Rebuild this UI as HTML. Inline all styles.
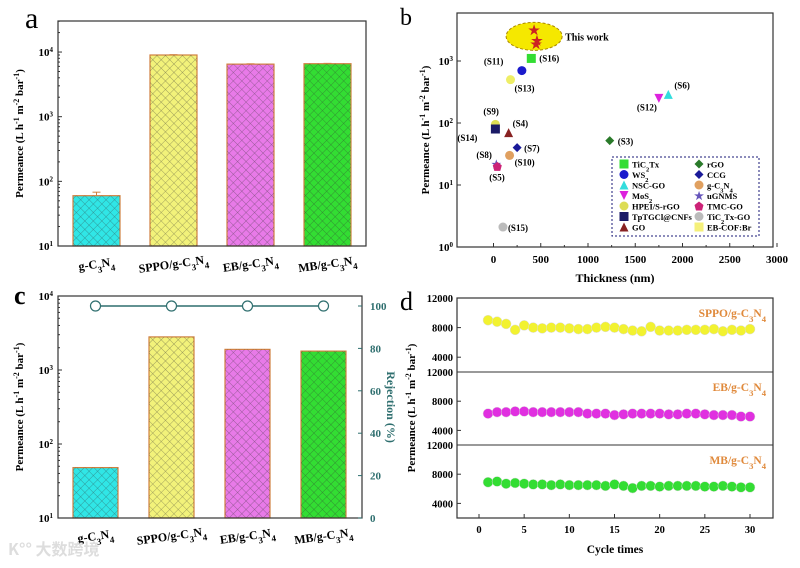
<!DOCTYPE html>
<html><head><meta charset="utf-8"><style>
html,body{margin:0;padding:0;background:#fff;}
svg{display:block;font-family:"Liberation Serif",serif;font-weight:bold;}
</style></head><body>
<svg id="fig" width="800" height="568" viewBox="0 0 800 568" xmlns="http://www.w3.org/2000/svg">
<defs>
<pattern id="hatch" width="6" height="6" patternUnits="userSpaceOnUse" patternTransform="rotate(45)">
<line x1="0" y1="0" x2="0" y2="6" stroke="#333" stroke-width="0.7"/>
<line x1="0" y1="0" x2="6" y2="0" stroke="#333" stroke-width="0.7"/>
</pattern>
</defs>
<g id="root"></g>
</svg>
<script>
// Panel a data
const aCategories = ["g-C3N4","SPPO/g-C3N4","EB/g-C3N4","MB/g-C3N4"];
const aValues = [60, 9000, 6500, 6600];
const aErrors = [8, 100, 80, 80];
// Panel c data
const cValues = [48, 2800, 1900, 1800];
const cRejection = [100, 100, 100, 100];
const barColors = ["#30e6e6","#f2f27a","#e87ae8","#33dd33"];
const logTicks = [1,2,3,4];
const rejTicks = [0,20,40,60,80,100];
// Panel b data
const bLabels = ["S16","S11","S13","S6","S12","S9","S14","S4","S7","S10","S8","S5","S3","S15"];
const bThick = [400,300,180,1850,1750,20,20,160,250,170,30,40,1230,100];
const bPerm = [1100,700,500,290,250,95,80,70,40,30,22,20,52,2.1];
const bShapes = ["square","circle","circle","tri","dtri","circle","square","tri","diamond","circle","star","pent","diamond","circle"];
const bColors = ["#33dd33","#1a1acc","#eeee66","#33dddd","#dd22dd","#dddd55","#1a1a66","#882222","#1a1a99","#e0a060","#6655bb","#cc2277","#2a7a2a","#bbbbbb"];
const workThick = [430,460,450];
const workPerm = [3200,2200,1900];
const bXTicks = [0,500,1000,1500,2000,2500,3000];
const bYTicks = [0,1,2,3];
const legendNames = ["TiC2Tx","rGO","WS2","CCG","NSC-GO","g-C3N4","MoS2","uGNMS","HPEI/S-rGO","TMC-GO","TpTGCl@CNFs","TiC2Tx-GO","GO","EB-COF:Br"];
// Panel d data
const dCycles = [1,2,3,4,5,6,7,8,9,10,11,12,13,14,15,16,17,18,19,20,21,22,23,24,25,26,27,28,29,30];
const dSPPO = [9000,8800,8500,7700,8300,8000,7900,8000,8000,7900,7800,7800,8000,8100,8000,7800,7600,7500,8100,7600,7600,7600,7700,7700,7700,7800,7500,7700,7600,7800];
const dEB = [6300,6500,6500,6600,6600,6500,6500,6500,6500,6500,6500,6300,6300,6300,6100,6200,6300,6300,6300,6300,6200,6200,6300,6300,6200,6100,6100,6100,5900,5900];
const dMB = [6900,7000,6700,6800,6700,6600,6600,6500,6600,6500,6500,6500,6500,6400,6600,6400,6100,6400,6400,6300,6400,6400,6400,6400,6300,6300,6400,6300,6200,6200];
const dXTicks = [0,5,10,15,20,25,30];
const dYTicks = [4000,8000,12000];

const NS="http://www.w3.org/2000/svg";
const root=document.getElementById('root');
function el(tag,attrs,parent,text){const e=document.createElementNS(NS,tag);for(const k in attrs)e.setAttribute(k,attrs[k]);if(text!==undefined)e.textContent=text;(parent||root).appendChild(e);return e;}
function chem(t,parent,attrs){
  const e=el('text',attrs,parent);
  const parts=t.split(/(\d)/);
  parts.forEach(p=>{if(p==='')return;const s=document.createElementNS(NS,'tspan');
    if(/^\d$/.test(p)){s.setAttribute('baseline-shift','sub');s.setAttribute('font-size','0.75em');}
    s.textContent=p;e.appendChild(s);});
  return e;}

function barPanel(name,L,R,T,B,dec10,vals,showErr,step,bw){
  const g=el('g',{});
  
  
  const top=Math.log10(dec10);
  const y=v=>B-(Math.log10(v)-1)/(top-1)*(B-T);
  const x0=L+15;
  vals.forEach((v,i)=>{
    const bx=x0+step*i;
    const r=el('rect',{x:bx,y:y(v),width:bw,height:B-y(v),fill:barColors[i],stroke:"#d08040","stroke-width":1.2},g);
    
    
    el('rect',{x:bx,y:y(v),width:bw,height:B-y(v),fill:"url(#hatch)",opacity:0.6},g);
    if(showErr){el('line',{x1:bx+bw/2,x2:bx+bw/2,y1:y(v+aErrors[i]),y2:y(v),stroke:"#d08040"},g);
      el('line',{x1:bx+bw/2-4,x2:bx+bw/2+4,y1:y(v+aErrors[i]),y2:y(v+aErrors[i]),stroke:"#d08040"},g);}
    const lb=chem(aCategories[i],g,{x:bx+bw/2,y:B+22,"text-anchor":"middle","font-size":12,transform:`rotate(-8 ${bx+bw/2} ${B+18})`});
    
    
  });
  el('rect',{x:L,y:T,width:R-L,height:B-T,fill:"none",stroke:"#333","stroke-width":1.2},g);
  logTicks.forEach(k=>{const yy=y(Math.pow(10,k));
    el('line',{x1:L,x2:L+4,y1:yy,y2:yy,stroke:"#333"},g);
    const t=el('text',{x:L-5,y:yy+4,"text-anchor":"end","font-size":11},g,'10');
    const s=document.createElementNS(NS,'tspan');s.setAttribute('baseline-shift','super');s.setAttribute('font-size','7');s.textContent=k;t.appendChild(s);
    for(let m=2;m<10;m++){const v=Math.pow(10,k)*m;if(Math.log10(v)>top)break;const ym=y(v);el('line',{x1:L,x2:L+2,y1:ym,y2:ym,stroke:"#333"},g);}
  });
  const yt=el('text',{x:0,y:0,"text-anchor":"middle","font-size":11,transform:`translate(${L-35},${(T+B)/2}) rotate(-90)`},g);
  
  
  yt.innerHTML='Permeance (L h<tspan baseline-shift="super" font-size="8">-1</tspan> m<tspan baseline-shift="super" font-size="8">-2</tspan> bar<tspan baseline-shift="super" font-size="8">-1</tspan>)';
  return {g,y};
}
barPanel('panel-a-chart',58,366,21,246,Math.pow(10,4.48),aValues,true,77,47);
el('text',{x:25,y:28,"font-size":30,"font-weight":"normal"},root,'a');
barPanel('panel-c-chart',58,362,296,518,Math.pow(10,4),cValues,false,76,45);
el('text',{x:14,y:304,"font-size":26},root,'c');
(function(){const L=58,R=362,T=296,B=518;
  const yr=v=>B-v/100*(B-306);
  const g=el('g',{});
  
  
  rejTicks.forEach(v=>{el('line',{x1:R,x2:R-4,y1:yr(v),y2:yr(v),stroke:"#2f6f6f"},g);
    el('text',{x:R+8,y:yr(v)+4,"font-size":11,fill:"#2f6f6f"},g,v);});
  const xs=cRejection.map((v,i)=>L+15+76*i+22.5);
  el('polyline',{points:xs.map((x,i)=>x+','+yr(cRejection[i])).join(' '),fill:"none",stroke:"#2f6f6f","stroke-width":1.5},g);
  xs.forEach((x,i)=>{const c=el('circle',{cx:x,cy:yr(cRejection[i]),r:5,fill:"#fff",stroke:"#2f6f6f","stroke-width":1.2},g);
    
    });
  el('text',{x:0,y:0,"text-anchor":"middle","font-size":12,fill:"#2f6f6f",transform:`translate(387,${(T+B)/2}) rotate(90)`},g,'Rejection (%)');
})();
el('text',{x:8,y:555,"font-size":16,fill:"#ddd","font-family":"Noto Sans CJK SC,sans-serif"},root,'K°° 大数跨境');

(function(){
  const L=457,R=773,T=13,B=247;
  const x=v=>493.5+v*0.0945;
  const y=v=>B-Math.log10(v)*62;
  const g=el('g',{});
  
  
  el('text',{x:400,y:25,"font-size":24,"font-weight":"normal"},g,'b');
  el('rect',{x:L,y:T,width:R-L,height:B-T,fill:"none",stroke:"#333","stroke-width":1.2},g);
  bXTicks.forEach(v=>{el('line',{x1:x(v),x2:x(v),y1:B,y2:B-4,stroke:"#333"},g);
    el('text',{x:x(v),y:B+16,"text-anchor":"middle","font-size":11},g,v);
    el('line',{x1:x(v)+0.0945*250,x2:x(v)+0.0945*250,y1:B,y2:B-2,stroke:"#333"},g);});
  bYTicks.forEach(k=>{const yy=y(Math.pow(10,k));el('line',{x1:L,x2:L+4,y1:yy,y2:yy,stroke:"#333"},g);
    const t=el('text',{x:L-4,y:yy+4,"text-anchor":"end","font-size":11},g,'10');
    const s=document.createElementNS(NS,'tspan');s.setAttribute('baseline-shift','super');s.setAttribute('font-size','7');s.textContent=k;t.appendChild(s);});
  el('text',{x:(L+R)/2,y:282,"text-anchor":"middle","font-size":12},g,'Thickness (nm)');
  const yt=el('text',{x:0,y:0,"text-anchor":"middle","font-size":11,transform:`translate(429,${(T+B)/2}) rotate(-90)`},g);
  yt.innerHTML='Permeance (L h<tspan baseline-shift="super" font-size="8">-1</tspan> m<tspan baseline-shift="super" font-size="8">-2</tspan> bar<tspan baseline-shift="super" font-size="8">-1</tspan>)';
  el('ellipse',{cx:x(430),cy:y(2500),rx:28,ry:14,fill:"#f5e800",stroke:"#aa8800","stroke-dasharray":"3,2"},g);
  el('text',{x:x(430)+31,y:y(2500)+4,"font-size":10},g,'This work');
  workThick.forEach((t,i)=>{const s=el('text',{x:x(t),y:y(workPerm[i])+5,"text-anchor":"middle","font-size":13,fill:"#cc2222"},g,'★');
    
    });
  function mark(shape,cx,cy,col,gr){
    const r=4.5;let e;
    if(shape==='square')e=el('rect',{x:cx-r,y:cy-r,width:2*r,height:2*r,fill:col},gr);
    else if(shape==='circle')e=el('circle',{cx,cy,r,fill:col},gr);
    else if(shape==='tri')e=el('polygon',{points:`${cx},${cy-r} ${cx-r},${cy+r} ${cx+r},${cy+r}`,fill:col},gr);
    else if(shape==='dtri')e=el('polygon',{points:`${cx},${cy+r} ${cx-r},${cy-r} ${cx+r},${cy-r}`,fill:col},gr);
    else if(shape==='diamond')e=el('polygon',{points:`${cx},${cy-r} ${cx-r},${cy} ${cx},${cy+r} ${cx+r},${cy}`,fill:col},gr);
    else if(shape==='pent')e=el('polygon',{points:`${cx},${cy-r} ${cx+r},${cy-1} ${cx+3},${cy+r} ${cx-3},${cy+r} ${cx-r},${cy-1}`,fill:col},gr);
    else e=el('text',{x:cx,y:cy+4,"text-anchor":"middle","font-size":11,fill:col},gr,'★');
    return e;}
  const lblOff={S16:[8,3],S11:[-38,-6],S13:[4,12],S6:[6,-6],S12:[-22,12],S9:[-12,-10],S14:[-38,12],S4:[4,-6],S7:[7,4],S10:[5,10],S8:[-20,-6],S5:[-8,14],S3:[8,4],S15:[5,4]};
  bLabels.forEach((lb,i)=>{const cx=x(bThick[i]),cy=y(bPerm[i]);
    const m=mark(bShapes[i],cx,cy,bColors[i],g);
    
    
    const o=lblOff[lb];el('text',{x:cx+o[0],y:cy+o[1],"font-size":9},g,'('+lb+')');});
  const lg=el('g',{},g);
  
  
  el('rect',{x:612,y:157,width:147,height:79,fill:"#fff",stroke:"#1a1a77","stroke-dasharray":"2,2"},lg);
  const lshapes=["square","diamond","circle","diamond","tri","circle","dtri","star","circle","pent","square","circle","tri","square"];
  const lcols=["#33dd33","#2a7a2a","#1a1acc","#1a1a99","#33dddd","#e0a060","#dd22dd","#6655bb","#dddd55","#cc2277","#1a1a66","#bbbbbb","#882222","#f5f07a"];
  legendNames.forEach((n,i)=>{const col=i%2,row=Math.floor(i/2);const lx=624+col*75,ly=164+row*10.5;
    mark(lshapes[i],lx,ly,lcols[i],lg);
    const t=chem(n,lg,{x:lx+8,y:ly+3.5,"font-size":8.5});
    
    });
})();

(function(){
  const L=457,R=773,T=298,B=518;
  const x=v=>479+v*(750-479)/30;
  const tops=[298,372,445],h=[74,73,73];
  const series=[dSPPO,dEB,dMB],cols=["#f2f230","#e030e0","#33dd33"],names=["SPPO/g-C3N4","EB/g-C3N4","MB/g-C3N4"];
  const g=el('g',{});
  
  
  el('text',{x:400,y:310,"font-size":26,"font-weight":"normal"},g,'d');
  el('rect',{x:L,y:T,width:R-L,height:B-T,fill:"none",stroke:"#333","stroke-width":1.2},g);
  [372,445].forEach(yy=>el('line',{x1:L,x2:R,y1:yy,y2:yy,stroke:"#333"},g));
  series.forEach((s,si)=>{const t0=tops[si],hh=h[si];
    const y=v=>t0+(12000-v)/10000*hh;
    dYTicks.forEach(v=>{el('line',{x1:L,x2:L+4,y1:y(v),y2:y(v),stroke:"#333"},g);
      el('text',{x:L-4,y:y(v)+4,"text-anchor":"end","font-size":10.5},g,v);});
    s.forEach((v,i)=>{const c=el('circle',{cx:x(dCycles[i]),cy:y(v),r:5,fill:cols[si],stroke:"#ddd","stroke-width":0.5},g);
      
      });
    chem(names[si],g,{x:R-7,y:t0+19,"text-anchor":"end","font-size":11.5,fill:"#e08a3c"});
  });
  dXTicks.forEach(v=>{el('line',{x1:x(v),x2:x(v),y1:B,y2:B-4,stroke:"#333"},g);
    el('text',{x:x(v),y:B+15,"text-anchor":"middle","font-size":10.5},g,v);});
  el('text',{x:(L+R)/2,y:553,"text-anchor":"middle","font-size":11.5},g,'Cycle times');
  const yt=el('text',{x:0,y:0,"text-anchor":"middle","font-size":11,transform:`translate(415,${(T+B)/2}) rotate(-90)`},g);
  yt.innerHTML='Permeance (L h<tspan baseline-shift="super" font-size="8">-1</tspan> m<tspan baseline-shift="super" font-size="8">-2</tspan> bar<tspan baseline-shift="super" font-size="8">-1</tspan>)';
})();
</script>
</body></html>
